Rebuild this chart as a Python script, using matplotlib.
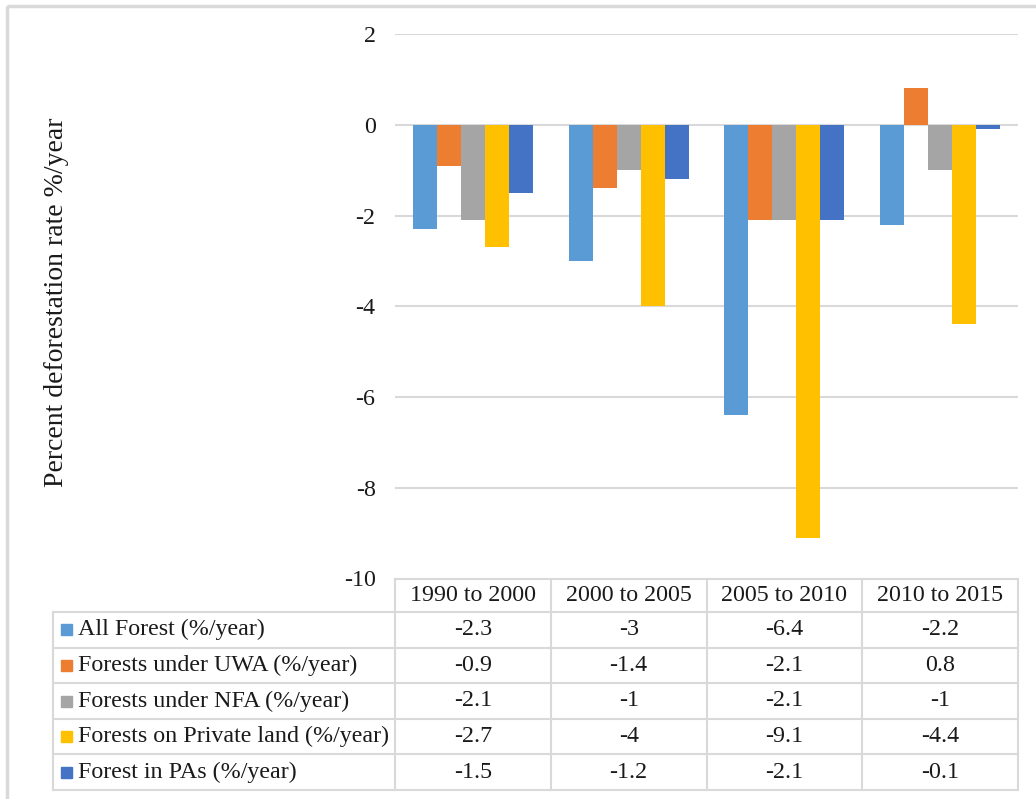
import matplotlib
matplotlib.use("Agg")
import matplotlib.pyplot as plt
from matplotlib.transforms import blended_transform_factory
from matplotlib.patches import Rectangle

periods = ["1990 to 2000", "2000 to 2005", "2005 to 2010", "2010 to 2015"]
series = ["All Forest (%/year)", "Forests under UWA (%/year)",
          "Forests under NFA (%/year)", "Forests on Private land (%/year)",
          "Forest in PAs (%/year)"]
all_forest = [-2.3, -3, -6.4, -2.2]
uwa = [-0.9, -1.4, -2.1, 0.8]
nfa = [-2.1, -1, -2.1, -1]
private = [-2.7, -4, -9.1, -4.4]
pas = [-1.5, -1.2, -2.1, -0.1]
values = [all_forest, uwa, nfa, private, pas]
colors = ["#5B9BD5", "#ED7D31", "#A5A5A5", "#FFC000", "#4472C4"]

W, H = 1036, 799
plt.rcParams['font.family'] = ['Liberation Serif', 'DejaVu Serif']
plt.rcParams['axes.unicode_minus'] = False
fs = 17.3
txtc = '#1a1a1a'
gridc = '#d9d9d9'

fig = plt.figure(figsize=(W/100, H/100), dpi=100)

# overlay in pixel coords for the table and frame
tab = fig.add_axes([0, 0, 1, 1])
tab.set_xlim(0, W)
tab.set_ylim(H, 0)
tab.axis('off')
tab.add_patch(Rectangle((6.5, 5.5), W, H, fill=False, ec='#d9d9d9', lw=2.5))

x0, x1, ytop, ybot = 395, 1018, 34, 578.5
ax = fig.add_axes([x0/W, 1-ybot/H, (x1-x0)/W, (ybot-ytop)/H])
ax.patch.set_alpha(0)
ax.set_xlim(-0.5, len(periods)-0.5)
ax.set_ylim(-10, 2)
ax.set_yticks(range(-10, 3, 2))
for v in range(-8, 3, 2):
    ax.axhline(v, color=gridc, lw=1.5, zorder=0)
for s in ax.spines.values():
    s.set_visible(False)
ax.set_xticks([])
ax.tick_params(axis='y', length=0, pad=14, labelsize=fs, labelcolor=txtc)

bw = 0.154
for j, vals in enumerate(values):
    xs = [i + (j-2)*bw for i in range(len(periods))]
    ax.bar(xs, vals, width=bw, color=colors[j], zorder=2)

fig.text(57/W, 1-302/H, "Percent deforestation rate %/year", rotation=90,
         ha='center', va='center', fontsize=20, color=txtc)

# data table
tr = blended_transform_factory(ax.transData, tab.transData)
head_top, head_bot = ybot, 612
row_h = (790-612)/len(series)
left = 53
for i in range(len(periods)+1):
    tab.plot([i-0.5, i-0.5], [head_top, 790], color=gridc, lw=1.5, transform=tr)
tab.plot([-0.5, len(periods)-0.5], [head_top, head_top], color=gridc, lw=1.5, transform=tr)
tab.plot([left, left], [head_bot, 790], color=gridc, lw=1.5)
for k in range(len(series)+1):
    yy = head_bot + k*row_h
    tab.plot([left, x1], [yy, yy], color=gridc, lw=1.5)
for i, p in enumerate(periods):
    tab.text(i, (head_top+head_bot)/2, p, transform=tr, ha='center', va='center',
             fontsize=fs, color=txtc)
for k, name in enumerate(series):
    yc = head_bot + (k+0.5)*row_h
    tab.add_patch(Rectangle((61, yc-5.5), 11, 11, color=colors[k]))
    tab.text(78, yc, name, ha='left', va='center', fontsize=fs, color=txtc)
    for i, v in enumerate(values[k]):
        tab.text(i, yc, f"{v:g}", transform=tr, ha='center', va='center',
                 fontsize=fs, color=txtc)

fig.savefig("out.png", dpi=100)
